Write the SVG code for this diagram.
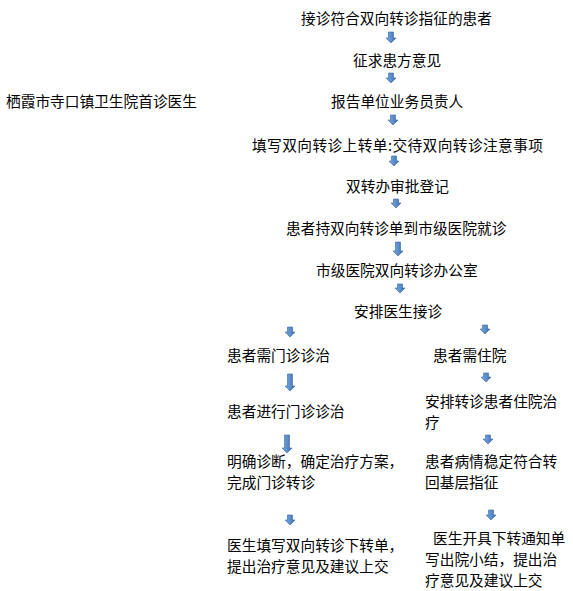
<svg xmlns="http://www.w3.org/2000/svg" width="573" height="591" viewBox="0 0 573 591">
<defs>
<linearGradient id="ag" x1="0" y1="0" x2="1" y2="0">
<stop offset="0" stop-color="#7aa7dc"/>
<stop offset="0.5" stop-color="#5b8fcf"/>
<stop offset="1" stop-color="#3d6cab"/>
</linearGradient>
<style>
text{font-family:"Noto Sans CJK SC","Noto Sans CJK JP",sans-serif;font-size:14.7px;fill:#000}
.ar{fill:url(#ag);stroke:#3b66a0;stroke-width:0.6}
</style>
</defs>
<rect width="573" height="591" fill="#fff"/>
<g id="n0"><text x="6" y="107">栖霞市寺口镇卫生院首诊医生</text></g>
<g id="n1"><text x="301" y="24">接诊符合双向转诊指征的患者</text></g>
<g id="n2"><text x="353" y="66">征求患方意见</text></g>
<g id="n3"><text x="331" y="107">报告单位业务员责人</text></g>
<g id="n4"><text x="252" y="151" textLength="291" lengthAdjust="spacing">填写双向转诊上转单:交待双向转诊注意事项</text></g>
<g id="n5"><text x="346" y="192">双转办审批登记</text></g>
<g id="n6"><text x="286" y="234">患者持双向转诊单到市级医院就诊</text></g>
<g id="n7"><text x="316" y="276">市级医院双向转诊办公室</text></g>
<g id="n8"><text x="354" y="317">安排医生接诊</text></g>
<g id="n9"><text x="227" y="361">患者需门诊诊治</text></g>
<g id="n10"><text x="433" y="361">患者需住院</text></g>
<g id="n11"><text x="227" y="417">患者进行门诊诊治</text></g>
<g id="n12"><text x="425" y="407">安排转诊患者住院治</text><text x="425" y="428">疗</text></g>
<g id="n13"><text x="227" y="467">明确诊断，确定治疗方案，</text><text x="227" y="488">完成门诊转诊</text></g>
<g id="n14"><text x="425" y="467">患者病情稳定符合转</text><text x="425" y="488">回基层指征</text></g>
<g id="n15"><text x="227" y="551">医生填写双向转诊下转单，</text><text x="227" y="572">提出治疗意见及建议上交</text></g>
<g id="n16"><text x="433" y="544">医生开具下转通知单</text><text x="425" y="565">写出院小结，提出治</text><text x="425" y="586">疗意见及建议上交</text></g>
<g id="connectors">
<path class="ar" d="M388.5 32h5v6h2.5l-5 5l-5-5h2.5z"/>
<path class="ar" d="M388.5 73h5v5h2.5l-5 5l-5-5h2.5z"/>
<path class="ar" d="M390.5 115h5v5h2.5l-5 5l-5-5h2.5z"/>
<path class="ar" d="M391.5 156h5v5h2.5l-5 5l-5-5h2.5z"/>
<path class="ar" d="M393.5 199h5v4h2.5l-5 5l-5-5h2.5z"/>
<path class="ar" d="M395.5 242h5v9h2.5l-5 5l-5-5h2.5z"/>
<path class="ar" d="M397.5 284h5v4h2.5l-5 5l-5-5h2.5z"/>
<path class="ar" d="M287.5 327h5v5h2.5l-5 5l-5-5h2.5z"/>
<path class="ar" d="M482.5 325h5v4h2.5l-5 5l-5-5h2.5z"/>
<path class="ar" d="M287.5 374h5v12h2.5l-5 5l-5-5h2.5z"/>
<path class="ar" d="M483.5 373h5v4h2.5l-5 5l-5-5h2.5z"/>
<path class="ar" d="M284.5 435h5v13h2.5l-5 5l-5-5h2.5z"/>
<path class="ar" d="M485.5 435h5v4h2.5l-5 5l-5-5h2.5z"/>
<path class="ar" d="M287.5 515h5v5h2.5l-5 5l-5-5h2.5z"/>
<path class="ar" d="M488.5 510h5v5h2.5l-5 5l-5-5h2.5z"/>
</g>
</svg>
